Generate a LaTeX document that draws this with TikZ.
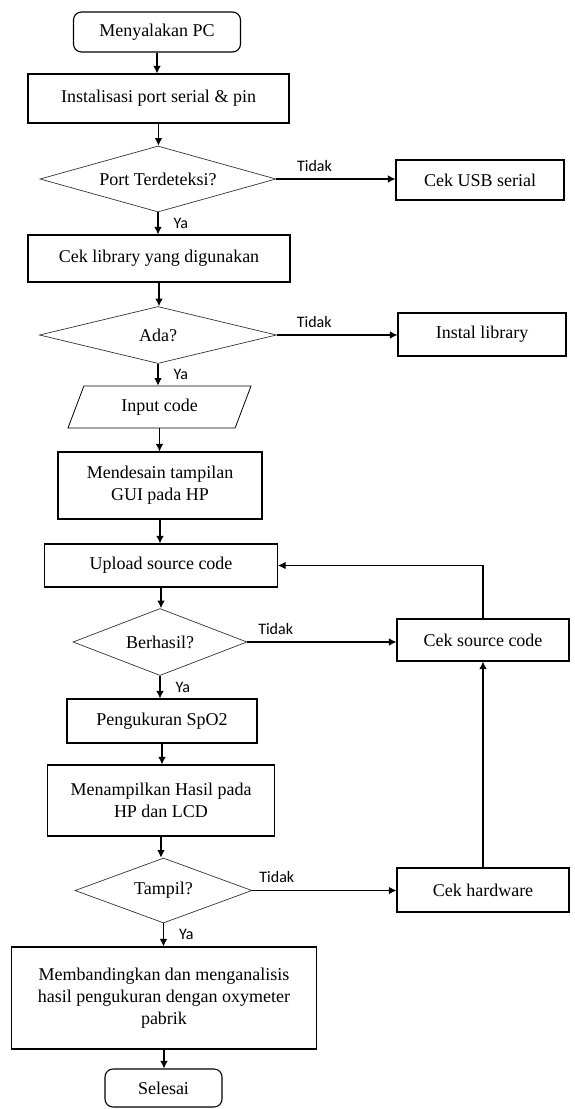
\documentclass[tikz,border=0pt]{standalone}
\usepackage{fontspec}
\setmainfont{Liberation Serif}
\newfontfamily\lblfont{Carlito}
\usetikzlibrary{arrows.meta,shapes.geometric}

\tikzset{
	proses/.style={draw, line width=1.1pt, align=center, inner sep=2pt, font=\fontsize{18}{22}\selectfont},
	terminal/.style={proses, rounded corners=8pt},
	keputusan/.style={diamond, draw=black!80, line width=0.7pt, aspect=3, inner sep=0pt, font=\fontsize{18}{22}\selectfont},
	masukan/.style={trapezium, trapezium left angle=52, trapezium right angle=128, trapezium stretches body, draw, line width=0.8pt, inner sep=2pt, font=\fontsize{18}{22}\selectfont},
	panah/.style={-{Latex[length=7.5pt,width=7.5pt]}, line width=1.1pt},
	lbl/.style={font=\lblfont\fontsize{16}{18}\selectfont, inner sep=1pt}
}

\begin{document}
\begin{tikzpicture}[x=1pt, y=-1pt]
			%%%%% START %%%%%
			\useasboundingbox (0, 0) rectangle (574, 1109);
			
			\node[terminal, minimum width=167pt, minimum height=40pt] (mulai) at (157, 32) {Menyalakan PC};
			\node[proses, minimum width=261pt, minimum height=49pt] (inisial) at (158.5, 98.5) {Instalisasi port serial \& pin};
			\node[keputusan, minimum width=236pt, minimum height=66pt] (port) at (158, 179) {Port Terdeteksi?};
			\node[proses, minimum width=168pt, minimum height=40pt] (cekusb) at (480, 180) {Cek USB serial};
			\node[proses, minimum width=262pt, minimum height=47pt] (ceklib) at (159, 258.5) {Cek library yang digunakan};
			\node[keputusan, minimum width=237pt, minimum height=57pt] (ada) at (158, 335) {Ada?};
			\node[proses, minimum width=168pt, minimum height=43pt] (instal) at (482, 334.5) {Instal library};
			\node[masukan, minimum width=183pt, minimum height=42pt] (input) at (159.5, 407) {Input code};
			\node[proses, minimum width=204pt, minimum height=67pt] (desain) at (160, 485.5) {Mendesain tampilan\\GUI pada HP};
			\node[proses, minimum width=233pt, minimum height=43pt] (upload) at (161, 565.5) {Upload source code};
			
			\node[keputusan, minimum width=174pt, minimum height=67pt] (berhasil) at (160, 642) {Berhasil?};
			\node[proses, minimum width=172pt, minimum height=42pt] (ceksrc) at (483, 640) {Cek source code};
			\node[proses, minimum width=190pt, minimum height=44pt] (ukur) at (162, 721) {Pengukuran SpO2};
			\node[proses, minimum width=227pt, minimum height=71pt] (hasil) at (161, 800.5) {Menampilkan Hasil pada\\HP dan LCD};
			\node[keputusan, minimum width=177pt, minimum height=65pt] (tampil) at (163.5, 890.5) {Tampil?};
			\node[proses, minimum width=172pt, minimum height=44pt] (cekhw) at (483, 890) {Cek hardware};
			\node[proses, minimum width=305pt, minimum height=102pt] (banding) at (164, 998) {Membandingkan dan menganalisis\\hasil pengukuran dengan oxymeter\\pabrik};
			\node[terminal, minimum width=117pt, minimum height=38pt] (selesai) at (163.5, 1088) {Selesai};
			
			\draw[panah] (mulai.south) -- (mulai.south |- inisial.north);
			\draw[panah] (inisial.south) -- (inisial.south |- port.north);
			\draw[panah] (port.east) -- node[lbl, above=6pt, pos=0.32] {Tidak} (port.east -| cekusb.west);
			\draw[panah] (port.south) -- node[lbl, anchor=west, xshift=14pt] {Ya} (port.south |- ceklib.north);
			\draw[panah] (ceklib.south) -- (ceklib.south |- ada.north);
			\draw[panah] (ada.east) -- node[lbl, above=6pt, pos=0.31] {Tidak} (ada.east -| instal.west);
			\draw[panah] (ada.south) -- node[lbl, anchor=west, xshift=14pt] {Ya} (ada.south |- input.north);
			\draw[panah] (input.south) -- (input.south |- desain.north);
			\draw[panah] (desain.south) -- (desain.south |- upload.north);
			\draw[panah] (upload.south) -- (upload.south |- berhasil.north);
			
			\draw[panah] (berhasil.east) -- node[lbl, above=6pt, pos=0.19] {Tidak} (berhasil.east -| ceksrc.west);
			\draw[panah] (berhasil.south) -- node[lbl, anchor=west, xshift=14pt] {Ya} (berhasil.south |- ukur.north);
			\draw[panah] (ukur.south) -- (ukur.south |- hasil.north);
			\draw[panah] (hasil.south) -- (hasil.south |- tampil.north);
			\draw[panah] (tampil.east) -- node[lbl, above=6pt, pos=0.17] {Tidak} (tampil.east -| cekhw.west);
			\draw[panah] (tampil.south) -- node[lbl, anchor=west, xshift=14pt] {Ya} (tampil.south |- banding.north);
			\draw[panah] (banding.south) -- (banding.south |- selesai.north);
			
			\draw[panah] (ceksrc.north) |- (upload.east);
			\draw[panah] (cekhw.north) -- (ceksrc.south);
			
			%%%%% END %%%%%
\end{tikzpicture}
\end{document}
